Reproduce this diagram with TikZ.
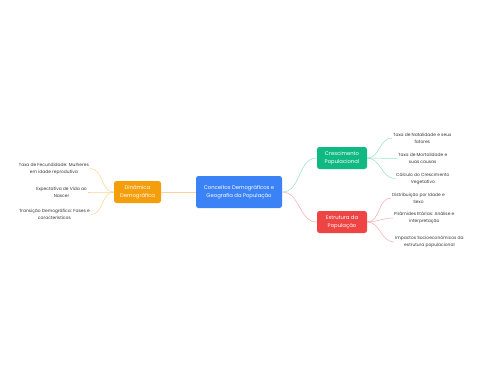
\documentclass[tikz,border=0pt]{standalone}
\usepackage{fontspec}
\setmainfont{Poppins}
\usetikzlibrary{positioning}
\definecolor{mainblue}{RGB}{59,130,246}
\definecolor{dynorange}{RGB}{245,158,11}
\definecolor{growgreen}{RGB}{16,185,129}
\definecolor{structred}{RGB}{239,68,68}
\tikzset{
  topic/.style={rounded corners=2.5pt, text=white, align=center, inner sep=1pt, font=\fontsize{5.3}{8}\selectfont},
  leaf/.style={align=center, inner sep=1pt, text=black!80, font=\fontsize{4.4}{6.8}\selectfont},
  link/.style={line width=0.5pt}
}
\begin{document}
\begin{tikzpicture}[x=1pt, y=-1pt]
\useasboundingbox (0,0) rectangle (480,384);
\node[topic, fill=mainblue, minimum width=86pt, minimum height=32pt] (main) at (239,192) {Conceitos Demográficos e\\Geografia da População};
\node[topic, fill=dynorange, minimum width=47pt, minimum height=22pt] (dyn) at (137.5,192) {Dinâmica\\Demográfica};
\node[topic, fill=growgreen, minimum width=50pt, minimum height=22pt] (grow) at (342,158) {Crescimento\\Populacional};
\node[topic, fill=structred, minimum width=50pt, minimum height=22pt] (struct) at (342,222) {Estrutura da\\População};
% left branch
\node[leaf, anchor=east] (fec) at (90,168.5) {Taxa de Fecundidade: Mulheres\\em idade reprodutiva};
\node[leaf, anchor=east] (life) at (88,192) {Expectativa de Vida ao\\Nascer};
\node[leaf, anchor=east] (trans) at (91,214.5) {Transição Demográfica: Fases e\\características};
% right branches
\node[leaf, anchor=west] (birth) at (392,138) {Taxa de Natalidade e seus\\fatores};
\node[leaf, anchor=west] (death) at (397,158.5) {Taxa de Mortalidade e\\suas causas};
\node[leaf, anchor=west] (veg) at (395,178.5) {Cálculo do Crescimento\\Vegetativo};
\node[leaf, anchor=west] (age) at (391,198) {Distribuição por Idade e\\Sexo};
\node[leaf, anchor=west] (pyr) at (393,218) {Pirâmides Etárias: Análise e\\interpretação};
\node[leaf, anchor=west] (imp) at (394,242) {Impactos Socioeconômicos da\\estrutura populacional};
\draw[link, dynorange!45] (main.west) -- (dyn.east);
\draw[link, growgreen!45] (main.east) to[out=0, in=180] (grow.west);
\draw[link, structred!45] (main.east) to[out=0, in=180] (struct.west);
\foreach \t in {fec,life,trans} \draw[link, dynorange!45] (dyn.west) to[out=180, in=0] (\t.east);
\foreach \t in {birth,death,veg} \draw[link, growgreen!45] (grow.east) to[out=0, in=180] (\t.west);
\foreach \t in {age,pyr,imp} \draw[link, structred!45] (struct.east) to[out=0, in=180] (\t.west);
\end{tikzpicture}
\end{document}
